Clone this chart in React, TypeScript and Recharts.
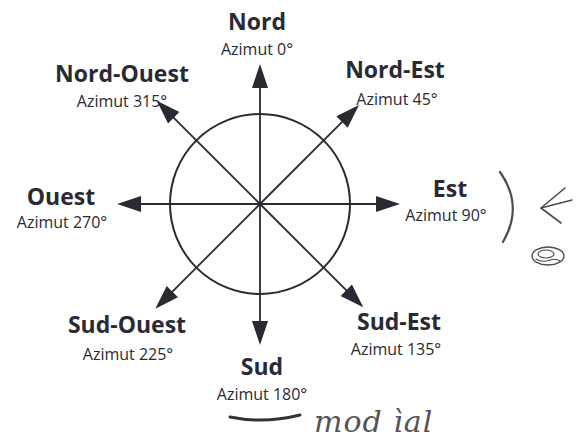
import React from 'react';
import { ScatterChart, Scatter, XAxis, YAxis, ReferenceLine, Customized } from 'recharts';

// ---- data ----
const directions = ['Nord', 'Nord-Est', 'Est', 'Sud-Est', 'Sud', 'Sud-Ouest', 'Ouest', 'Nord-Ouest'];
const azimuths = [0, 45, 90, 135, 180, 225, 270, 315];
const azimutLabels = ['Azimut 0°', 'Azimut 45°', 'Azimut 90°', 'Azimut 135°', 'Azimut 180°', 'Azimut 225°', 'Azimut 270°', 'Azimut 315°'];
const arrowLengths = [140, 140, 140, 146, 141, 148, 143, 146];
const circleRadius = 90;

// ---- layout (chart units = px, origin at compass centre, y up) ----
const W = 578;
const H = 439;
const CX = 260;
const CY = 204;
const HEAD_LEN = 24;
const HEAD_HALF = 8;
const labelAnchors: [number, number][] = [
  [-3, 174], [135, 126], [190, 7], [139, -126], [2, -171], [-133, -129], [-199, -1], [-138, 122],
];
const subOffsets: [number, number][] = [
  [0, 25], [2, 27], [-4, 24], [-3, 25], [0, 25], [1, 27], [1, 23], [0, 25],
];
const INK = '#2a2a33';
const FONT = '"Open Sans", Lato, sans-serif';

const rad = (a: number) => (a * Math.PI) / 180;

const tips = azimuths.map((az, i) => ({
  x: arrowLengths[i] * Math.sin(rad(az)),
  y: arrowLengths[i] * Math.cos(rad(az)),
  az,
}));
const lineEnds = azimuths.map((az, i) => ({
  x: (arrowLengths[i] - HEAD_LEN + 2) * Math.sin(rad(az)),
  y: (arrowLengths[i] - HEAD_LEN + 2) * Math.cos(rad(az)),
}));
const labels = directions.map((name, i) => ({
  x: labelAnchors[i][0],
  y: labelAnchors[i][1],
  name,
  sub: azimutLabels[i],
  dx: subOffsets[i][0],
  dy: subOffsets[i][1],
}));
const centre = [{ x: 0, y: 0 }];

const ArrowHead = (props: any) => {
  const { cx, cy, payload } = props;
  return (
    <polygon
      points={`0,0 ${-HEAD_HALF},${HEAD_LEN} ${HEAD_HALF},${HEAD_LEN}`}
      transform={`translate(${cx},${cy}) rotate(${payload.az})`}
      fill={INK}
    />
  );
};

const Ring = (props: any) => (
  <circle cx={props.cx} cy={props.cy} r={circleRadius} fill="none" stroke={INK} strokeWidth={2} />
);

const Label = (props: any) => {
  const { cx, cy, payload } = props;
  return (
    <g>
      <text x={cx} y={cy} textAnchor="middle" fontFamily={FONT} fontWeight={700} fontSize={23} fill={INK}>
        {payload.name}
      </text>
      <text x={cx + payload.dx} y={cy + payload.dy} textAnchor="middle" fontFamily={FONT} fontSize={16} fill={INK}>
        {payload.sub}
      </text>
    </g>
  );
};

const Annotations = () => (
  <g fill="none" stroke="#4a4a52" strokeLinecap="round" strokeLinejoin="round">
    <path d="M500,172 Q524,206 503,242" strokeWidth={2.2} />
    <path d="M565,188 L541,208 L561,223" strokeWidth={1.6} />
    <path d="M541,208 L572,200" strokeWidth={1.4} />
    <ellipse cx={548} cy={256} rx={16} ry={9} strokeWidth={1.3} />
    <ellipse cx={546} cy={254} rx={8} ry={4} strokeWidth={1.1} />
    <path d="M536,259 q6,4 14,1 q6,-2 10,1" strokeWidth={1.1} />
    <path d="M230,417 Q264,424 300,415" strokeWidth={3} stroke="#333" />
    <text x={314} y={432} fontFamily='"DejaVu Serif", serif' fontStyle="italic" fontSize={30} fill="#555" stroke="none" letterSpacing={1}>
      mod ìal
    </text>
  </g>
);

export default function App() {
  return (
    <div style={{ position: 'absolute', left: 0, top: 0, width: W, height: H, background: '#fff' }}>
      <ScatterChart width={W} height={H} margin={{ top: 0, right: 0, bottom: 0, left: 0 }}>
        <XAxis type="number" dataKey="x" domain={[-CX, W - CX]} hide allowDataOverflow />
        <YAxis type="number" dataKey="y" domain={[CY - H, CY]} hide allowDataOverflow />
        {lineEnds.map((p, i) => (
          <ReferenceLine
            key={i}
            segment={[{ x: 0, y: 0 }, { x: p.x, y: p.y }]}
            stroke={INK}
            strokeWidth={1.8}
            ifOverflow="visible"
          />
        ))}
        <Scatter data={centre} shape={Ring} isAnimationActive={false} />
        <Scatter data={tips} shape={ArrowHead} isAnimationActive={false} />
        <Scatter data={labels} shape={Label} isAnimationActive={false} />
        <Customized component={Annotations} />
      </ScatterChart>
    </div>
  );
}
